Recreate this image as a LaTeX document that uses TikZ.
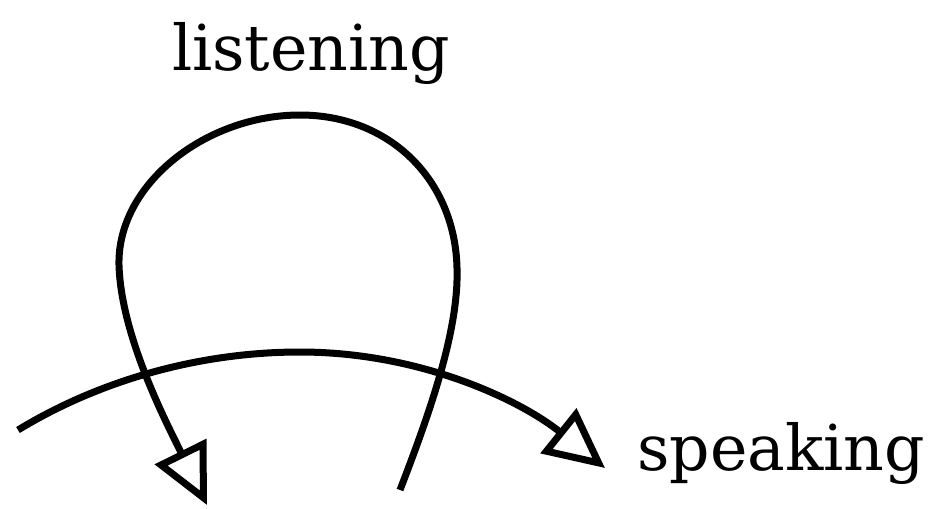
\documentclass[tikz,border=0pt]{standalone}
\usepackage{fontspec}
\setmainfont{DejaVu Serif}
\usetikzlibrary{arrows.meta, positioning}

\begin{document}
\begin{tikzpicture}[
      x=0.02cm, y=-0.02cm,
      lbl/.style={font=\fontsize{36}{38}\selectfont, inner sep=0pt},
      ar/.style={line width=7*0.02cm, -{Triangle[open, length=34pt, width=32pt, line width=7*0.02cm]}}
    ]
    \useasboundingbox (0,0) rectangle (936,508);
    \node[lbl, anchor=base] (listen) at (311,70) {listening};
    \node[lbl, anchor=base west] (speak) at (637,470) {speaking};
    \coordinate (loopstart) at (400,490);
    \coordinate (loopend) at (207,505);
    \coordinate (arcstart) at (18,430);
    \coordinate (arcend) at (605,468);
    \draw[ar] (loopstart) .. controls (430,412) and (459,330) .. (457,268)
      .. controls (455,180) and (390,115) .. (300,115)
      .. controls (205,115) and (117,185) .. (119,265)
      .. controls (121,335) and (165,420) .. (loopend);
    \draw[ar] (arcstart) .. controls (100,380) and (200,352) .. (300,352)
      .. controls (420,352) and (520,400) .. (arcend);
  \end{tikzpicture}
\end{document}
